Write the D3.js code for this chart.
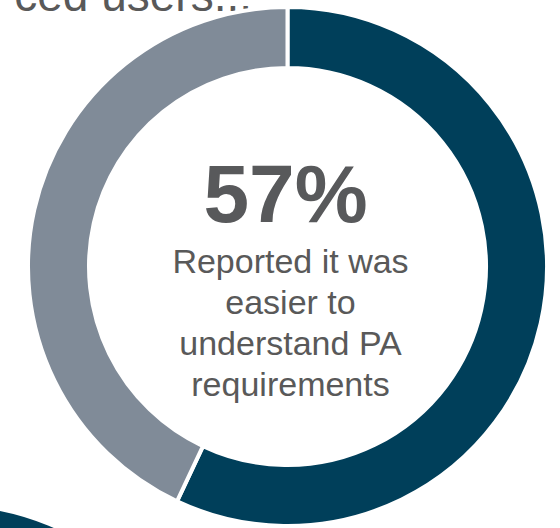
<!DOCTYPE html>
<html>
<head>
<meta charset="utf-8">
<script src="https://cdn.jsdelivr.net/npm/d3@7/dist/d3.min.js"></script>
<style>
  html, body { margin: 0; padding: 0; background: #ffffff; }
  svg { display: block; }
  text { font-family: "Liberation Sans", Arial, sans-serif; }
</style>
</head>
<body>
<svg id="chart" width="560" height="528"></svg>
<script>
// Share of respondents
const categories = ["Easier to understand PA requirements", "Other responses"];
const values = [57, 43];
const colors = ["#003f5a", "#808b98"];
const headline = "57%";
const captionLines = ["Reported it was", "easier to", "understand PA", "requirements"];
const titleText = "ced users...";

const svg = d3.select("#chart");
const cx = 287.5, cy = 266.5;
const outerR = 259.5, innerR = 198.5;

// Section heading, running off the top-left edge
svg.append("text")
  .attr("x", 252).attr("y", 11)
  .attr("text-anchor", "end")
  .attr("font-size", 46)
  .attr("fill", "#595959")
  .text(titleText);

const pie = d3.pie().value(d => d).sort(null);
const arc = d3.arc().innerRadius(innerR).outerRadius(outerR);

// Neighbouring donut peeking in at the bottom-left corner
svg.append("path")
  .attr("transform", "translate(-50,762)")
  .attr("d", d3.arc().innerRadius(innerR - 3).outerRadius(outerR - 3.5)({startAngle: 0, endAngle: 2 * Math.PI}))
  .attr("fill", colors[0]);

const g = svg.append("g").attr("transform", `translate(${cx},${cy})`);

g.selectAll("path.slice")
  .data(pie(values))
  .join("path")
  .attr("class", "slice")
  .attr("d", arc)
  .attr("fill", (d, i) => colors[i])
  .attr("stroke", "#ffffff")
  .attr("stroke-width", 4)
  .attr("stroke-linejoin", "miter");

// Centre label
g.append("text")
  .attr("x", -2).attr("y", -45)
  .attr("text-anchor", "middle")
  .attr("font-size", 82)
  .attr("font-weight", "bold")
  .attr("fill", "#58595b")
  .text(headline);

g.append("g")
  .selectAll("text")
  .data(captionLines)
  .join("text")
  .attr("x", 3)
  .attr("y", (d, i) => 6 + i * 41)
  .attr("text-anchor", "middle")
  .attr("font-size", 34)
  .attr("fill", "#595959")
  .text(d => d);
</script>
</body>
</html>
